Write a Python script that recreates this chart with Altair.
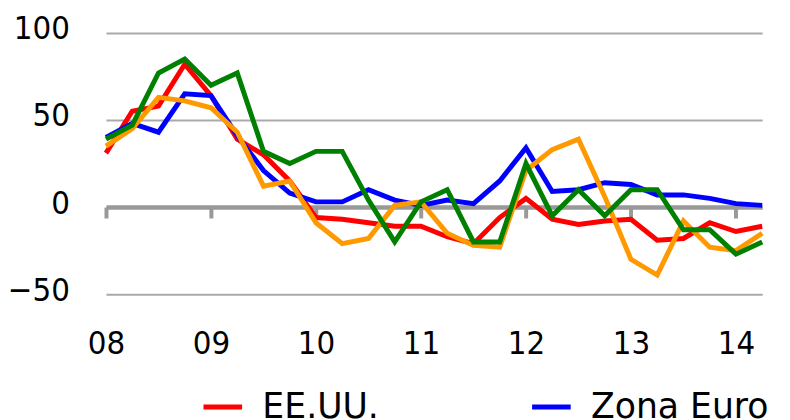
import altair as alt
import pandas as pd

# Quarterly data, 2008 Q1 .. 2014 Q2 (26 quarters)
year_labels = ["08", "09", "10", "11", "12", "13", "14"]
series_names = ["EE.UU.", "Zona Euro", "Japón", "Reino Unido"]
series_colors = ["#ff0000", "#0000ff", "#ff9900", "#008000"]

eeuu = [31, 55, 58, 82, 64, 39, 30, 15, -6, -7, -9, -11, -11, -17, -21, -6, 5, -7, -10, -8, -7, -19, -18, -9, -14, -11]
zona_euro = [40, 48, 43, 65, 64, 41, 21, 8, 3, 3, 10, 4, 1, 4, 2, 15, 34, 9, 10, 14, 13, 7, 7, 5, 2, 1]
japon = [35, 45, 63, 61, 57, 43, 12, 15, -9, -21, -18, 1, 3, -15, -22, -23, 21, 33, 39, 6, -30, -39, -8, -23, -25, -15]
reino_unido = [39, 47, 77, 85, 70, 77, 32, 25, 32, 32, 4, -20, 3, 10, -20, -20, 25, -5, 10, -5, 10, 10, -13, -13, -27, -20]

rows = []
for order, (name, vals) in enumerate(zip(series_names, [eeuu, zona_euro, japon, reino_unido])):
    for i, v in enumerate(vals):
        rows.append({"q": i, "valor": v, "serie": name, "orden": order})
df = pd.DataFrame(rows)

FONT = "DejaVu Sans Condensed"
LEG_FONT = "DejaVu Sans"
FS = 33
label_expr = "[" + ",".join("'%s'" % y for y in year_labels) + "][datum.value/4]"
tick_vals = [4 * k for k in range(len(year_labels))]

x_scale = alt.Scale(domain=[0, 25], nice=False, zero=False)
y_scale = alt.Scale(domain=[-50, 100], nice=False)

y_axis = alt.Axis(values=[-50, 0, 50, 100], domain=False, ticks=False, grid=True,
                  gridColor="#aaaaaa", gridWidth=2, labelFont=FONT, labelFontSize=FS,
                  labelColor="#000", labelPadding=37, labelOffset=-4)

zero_axis = alt.Chart(df).mark_line(opacity=0).encode(
    x=alt.X("q:Q", scale=x_scale, title=None,
            axis=alt.Axis(values=tick_vals, labels=False, domain=True, domainColor="#999999",
                          domainWidth=4.5, ticks=True, tickColor="#999999", tickWidth=4,
                          tickSize=11, grid=False, orient="bottom", offset=-88)),
    y=alt.Y("valor:Q", scale=y_scale, title=None, axis=y_axis),
)

lines = alt.Chart(df).mark_line(strokeWidth=5, strokeJoin="miter").encode(
    x=alt.X("q:Q", scale=x_scale, title=None,
            axis=alt.Axis(values=tick_vals, labelExpr=label_expr, domain=False, ticks=False,
                          grid=False, labelFont=FONT, labelFontSize=FS, labelColor="#000",
                          labelPadding=34, labelFlush=False, orient="bottom")),
    y=alt.Y("valor:Q", scale=y_scale, title=None, axis=y_axis),
    color=alt.Color("serie:N", scale=alt.Scale(domain=series_names, range=series_colors),
                    legend=alt.Legend(values=series_names[:2], orient="none", direction="horizontal",
                                      legendX=96, legendY=356, title=None, symbolType="stroke",
                                      symbolSize=1521, symbolStrokeWidth=5, labelFont=LEG_FONT,
                                      labelFontSize=35, labelColor="#000", labelOffset=18,
                                      labelLimit=0, columnPadding=144, padding=0)),
    order=alt.Order("orden:Q"),
    detail="serie:N",
)

chart = alt.layer(zero_axis, lines).resolve_axis(x="independent").properties(
    width=663, height=264,
    autosize=alt.AutoSizeParams(type="none"),
    padding={"left": 99, "top": 23, "right": 20, "bottom": 130},
).configure_view(stroke=None)

chart.save("out.html", embed_options={"renderer": "svg", "actions": False})
